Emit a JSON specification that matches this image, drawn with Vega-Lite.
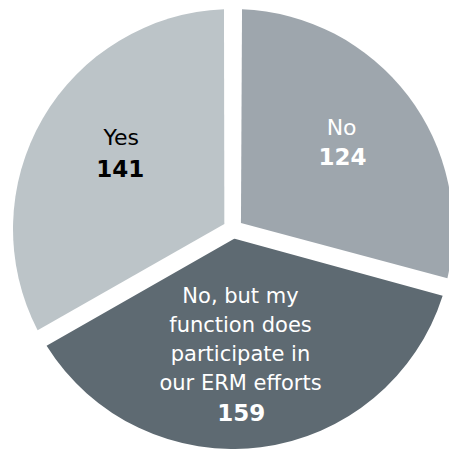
{
  "$schema": "https://vega.github.io/schema/vega-lite/v6.json",
  "autosize": {"type": "none"},
  "padding": {"left": 17, "top": 9, "right": 0, "bottom": 0},
  "width": 432,
  "height": 440,
  "background": "white",
  "config": {"view": {"stroke": null}},
  "data": {
    "values": [
      {"answer": "No", "count": 124, "label": "No"},
      {"answer": "No, but my function does participate in our ERM efforts", "count": 159, "label": "No, but my|function does|participate in|our ERM efforts"},
      {"answer": "Yes", "count": 141, "label": "Yes"}
    ]
  },
  "encoding": {
    "theta": {"field": "count", "type": "quantitative", "stack": true},
    "order": {"field": "answer", "sort": "ascending"}
  },
  "layer": [
    {
      "mark": {"type": "arc", "radius": 220, "innerRadius": 10, "padAngle": 0.082},
      "encoding": {
        "color": {
          "field": "answer",
          "type": "nominal",
          "scale": {
            "domain": ["No", "No, but my function does participate in our ERM efforts", "Yes"],
            "range": ["#9EA6AD", "#5E6A72", "#BCC4C8"]
          },
          "legend": null
        }
      }
    },
    {
      "mark": {"type": "text", "radius": 142.4, "dx": 11.3, "dy": -19.3, "font": "DejaVu Sans", "fontSize": 22, "lineHeight": 29, "lineBreak": "|", "align": "center", "baseline": "middle", "color": "#000000"},
      "encoding": {"text": {"condition": {"test": "datum.answer === 'Yes'", "field": "label"}, "value": ""}}
    },
    {
      "mark": {"type": "text", "radius": 142.4, "dx": 10.3, "dy": 12.7, "font": "DejaVu Sans", "fontSize": 23, "fontWeight": "bold", "align": "center", "baseline": "middle", "color": "#000000"},
      "encoding": {"text": {"condition": {"test": "datum.answer === 'Yes'", "field": "count"}, "value": ""}}
    },
    {
      "mark": {"type": "text", "radius": 147.2, "dx": -8.4, "dy": -11.2, "font": "DejaVu Sans", "fontSize": 22, "lineHeight": 29, "lineBreak": "|", "align": "center", "baseline": "middle", "color": "#FFFFFF"},
      "encoding": {"text": {"condition": {"test": "datum.answer === 'No'", "field": "label"}, "value": ""}}
    },
    {
      "mark": {"type": "text", "radius": 147.2, "dx": -7.4, "dy": 18.2, "font": "DejaVu Sans", "fontSize": 23, "fontWeight": "bold", "align": "center", "baseline": "middle", "color": "#FFFFFF"},
      "encoding": {"text": {"condition": {"test": "datum.answer === 'No'", "field": "count"}, "value": ""}}
    },
    {
      "mark": {"type": "text", "radius": 70, "dx": -1.3, "dy": -1.7, "font": "DejaVu Sans", "fontSize": 21, "lineHeight": 29, "lineBreak": "|", "align": "center", "baseline": "middle", "color": "#FFFFFF"},
      "encoding": {"text": {"condition": {"test": "datum.answer !== 'Yes' && datum.answer !== 'No'", "field": "label"}, "value": ""}}
    },
    {
      "mark": {"type": "text", "radius": 70, "dx": -0.5, "dy": 115.3, "font": "DejaVu Sans", "fontSize": 23, "fontWeight": "bold", "align": "center", "baseline": "middle", "color": "#FFFFFF"},
      "encoding": {"text": {"condition": {"test": "datum.answer !== 'Yes' && datum.answer !== 'No'", "field": "count"}, "value": ""}}
    }
  ]
}
